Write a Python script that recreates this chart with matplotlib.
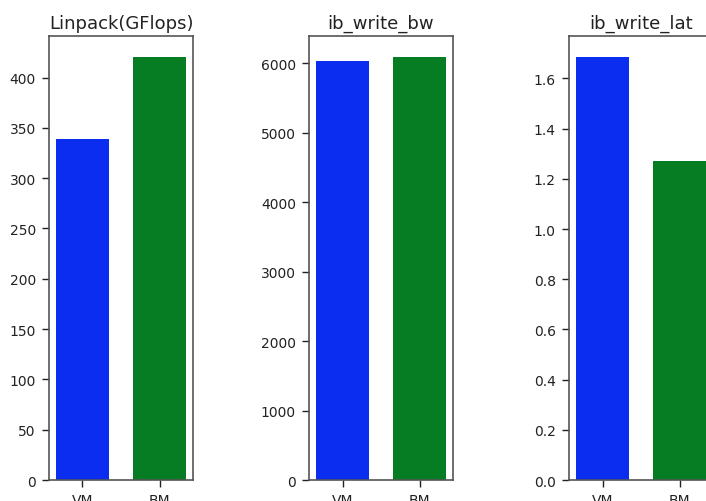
import matplotlib
matplotlib.use('Agg')
import matplotlib.pyplot as plt

# Data
labels      = ['VM', 'BM']
titles      = ['Linpack(GFlops)', 'ib_write_bw', 'ib_write_lat']
linpack     = [339, 420]
write_bw    = [6030, 6086]
write_lat   = [1.684, 1.27]
colors      = ['#0a2df0', '#067d22']

series      = [linpack, write_bw, write_lat]

fig = plt.figure(figsize=(7.06, 5.02), dpi=100)

# Axes placed by hand: the reference is a crop, the third panel runs off the right edge
lefts  = [0.0694, 0.4377, 0.806]
bottom = 0.0418
width  = 0.204
height = 0.884

for left, title, vals in zip(lefts, titles, series):
    ax = fig.add_axes([left, bottom, width, height])
    ax.bar(range(len(labels)), vals, width=0.7, color=colors)
    ax.set_xticks(range(len(labels)))
    ax.set_xticklabels(labels)
    ax.set_title(title, fontsize=13, color='#222222')
    ax.tick_params(labelsize=10, colors='#222222', length=5, width=1, pad=4.5)
    for sp in ax.spines.values():
        sp.set_color('#555555')
        sp.set_linewidth(1.2)

fig.savefig('out.png', dpi=100)
